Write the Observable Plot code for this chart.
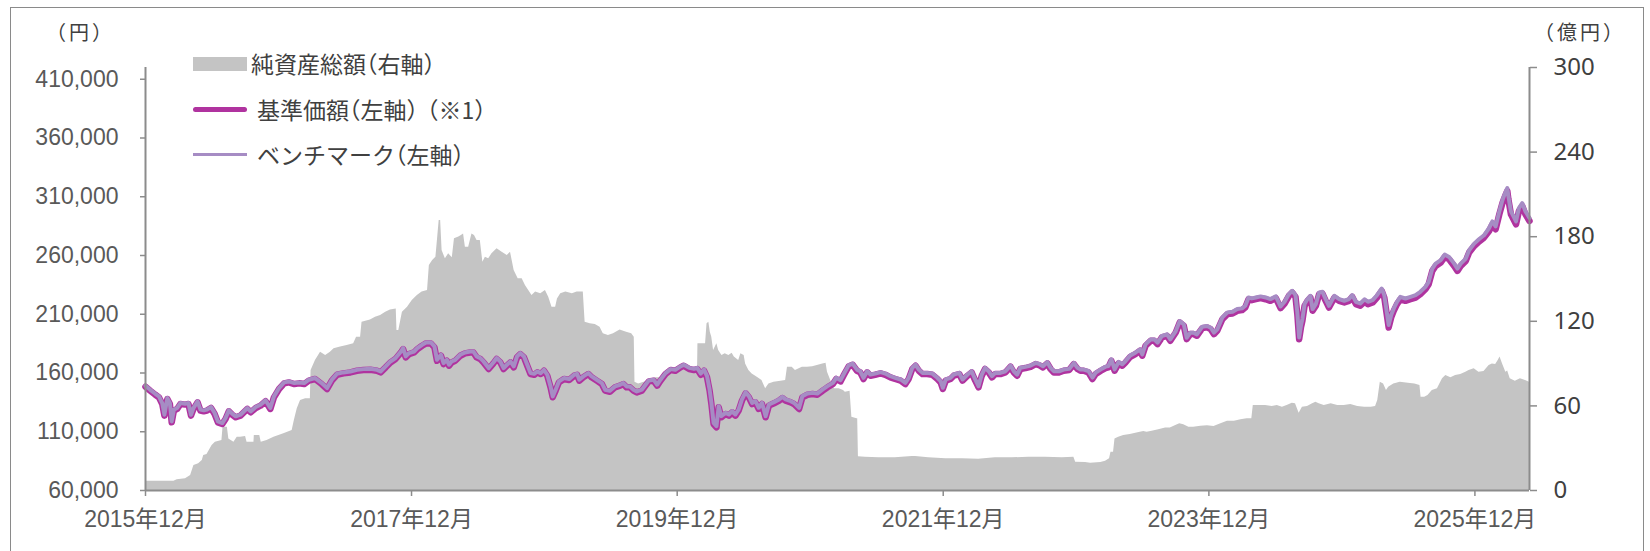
<!DOCTYPE html>
<html><head><meta charset="utf-8">
<script src="https://cdn.jsdelivr.net/npm/d3@7"></script>
<script src="https://cdn.jsdelivr.net/npm/@observablehq/plot@0.6"></script>
<style>
html,body{margin:0;padding:0;background:#fff;}
#wrap{position:relative;width:1650px;height:551px;overflow:hidden;color:#595959;font-family:"Liberation Sans","Noto Sans CJK JP",sans-serif;}
#frame{position:absolute;left:10px;top:7px;width:1634px;height:620px;border:1.5px solid #8a8a8a;box-sizing:border-box;}
#chart{position:absolute;left:0;top:0;}
.lg{position:absolute;font-size:23px;line-height:23px;white-space:nowrap;font-family:"Noto Sans CJK JP",sans-serif;color:#404040;font-feature-settings:"halt";}
.gap{margin-left:9px;}
.sw{position:absolute;}
.unit{position:absolute;font-size:20px;line-height:20px;font-family:"Noto Sans CJK JP",sans-serif;color:#404040;white-space:nowrap;letter-spacing:3px;}
</style></head>
<body>
<div id="wrap">
  <div id="frame"></div>
  <div id="chart"></div>
  <div class="unit" style="left:46px;top:22px;">（円）</div>
  <div class="unit" style="left:1534px;top:22px;">（億円）</div>
  <div class="sw" style="left:193px;top:57px;width:54px;height:14px;background:#c4c4c4;"></div>
  <div class="lg" style="left:251px;top:52px;">純資産総額（右軸）</div>
  <div class="sw" style="left:193px;top:107px;width:54px;height:5px;border-radius:2.5px;background:#b0339f;"></div>
  <div class="lg" style="left:257px;top:98px;">基準価額（左軸）<span class="gap">（※1）</span></div>
  <div class="sw" style="left:193px;top:153px;width:54px;height:2.5px;background:#a68cc4;"></div>
  <div class="lg" style="left:257px;top:143px;">ベンチマーク（左軸）</div>
</div>
<script>
const navDates = [
"2015-12-01","2015-12-14","2015-12-28",
"2016-01-07","2016-01-16","2016-01-22","2016-01-30","2016-02-06","2016-02-11","2016-02-17","2016-02-26","2016-03-06","2016-03-19","2016-03-28","2016-04-04","2016-04-11","2016-04-22","2016-04-30","2016-05-09","2016-05-18","2016-05-29","2016-06-08","2016-06-17","2016-06-29","2016-07-08","2016-07-17","2016-07-26","2016-08-05","2016-08-18","2016-09-06","2016-09-15","2016-09-29","2016-10-12","2016-10-26","2016-11-08","2016-11-18","2016-12-02","2016-12-16","2016-12-29",
"2017-01-13","2017-01-26","2017-02-09","2017-02-22","2017-03-11","2017-03-29","2017-04-13","2017-04-26","2017-05-10","2017-05-28","2017-06-16","2017-07-04","2017-07-22","2017-08-10","2017-08-28","2017-09-07","2017-09-21","2017-10-04","2017-10-18","2017-11-02","2017-11-08","2017-11-15","2017-11-24","2017-12-08","2017-12-17","2017-12-30",
"2018-01-10","2018-01-23","2018-02-02","2018-02-09","2018-02-20","2018-02-27","2018-03-08","2018-03-14","2018-03-21","2018-03-31","2018-04-14","2018-04-27","2018-05-11","2018-05-20","2018-05-29","2018-06-08","2018-06-17","2018-07-01","2018-07-14","2018-07-23","2018-08-02","2018-08-11","2018-08-20","2018-08-30","2018-09-08","2018-09-17","2018-09-26","2018-10-06","2018-10-15","2018-10-24","2018-11-03","2018-11-12","2018-11-21","2018-11-30","2018-12-09","2018-12-18","2018-12-24",
"2019-01-01","2019-01-10","2019-01-24","2019-02-07","2019-02-21","2019-03-01","2019-03-07","2019-03-18","2019-04-01","2019-04-10","2019-04-24","2019-05-08","2019-05-17","2019-05-30","2019-06-13","2019-06-27","2019-07-06","2019-07-15","2019-07-24","2019-08-03","2019-08-12","2019-08-26","2019-09-05","2019-09-14","2019-09-27","2019-10-07","2019-10-16","2019-10-30","2019-11-13","2019-11-26","2019-12-10","2019-12-19",
"2020-01-03","2020-01-16","2020-01-25","2020-02-04","2020-02-13","2020-02-21","2020-02-28","2020-03-04","2020-03-10","2020-03-18","2020-03-24","2020-03-31","2020-04-12","2020-04-21","2020-04-30","2020-05-09","2020-05-18","2020-05-27","2020-06-06","2020-06-15","2020-06-24","2020-07-03","2020-07-12","2020-07-21","2020-07-31","2020-08-09","2020-08-23","2020-09-06","2020-09-15","2020-09-24","2020-10-08","2020-10-17","2020-10-31","2020-11-09","2020-11-23","2020-12-07","2020-12-20",
"2021-01-04","2021-01-17","2021-02-01","2021-02-10","2021-02-22","2021-03-02","2021-03-16","2021-03-27","2021-04-08","2021-04-17","2021-04-26","2021-05-06","2021-05-15","2021-05-28","2021-06-12","2021-06-25","2021-07-09","2021-07-22","2021-08-06","2021-08-19","2021-08-28","2021-09-07","2021-09-16","2021-09-25","2021-10-05","2021-10-18","2021-11-01","2021-11-15","2021-11-24","2021-11-30","2021-12-08","2021-12-21","2021-12-30",
"2022-01-14","2022-01-23","2022-02-06","2022-02-17","2022-02-27","2022-03-08","2022-03-17","2022-03-26","2022-04-05","2022-04-14","2022-04-23","2022-05-07","2022-05-21","2022-06-04","2022-06-13","2022-06-22","2022-07-01","2022-07-15","2022-07-29","2022-08-12","2022-08-21","2022-09-01","2022-09-13","2022-09-22","2022-10-01","2022-10-15","2022-10-28","2022-11-12","2022-11-25","2022-12-05","2022-12-13","2022-12-22",
"2023-01-04","2023-01-15","2023-01-24","2023-02-07","2023-02-20","2023-02-28","2023-03-08","2023-03-17","2023-03-28","2023-04-07","2023-04-16","2023-04-29","2023-05-13","2023-05-26","2023-06-01","2023-06-10","2023-06-24","2023-07-04","2023-07-13","2023-07-25","2023-08-08","2023-08-17","2023-09-01","2023-09-12","2023-09-23","2023-10-01","2023-10-11","2023-10-20","2023-10-29","2023-11-13","2023-11-26","2023-12-06","2023-12-15","2023-12-24",
"2024-01-07","2024-01-21","2024-02-04","2024-02-17","2024-03-01","2024-03-10","2024-03-19","2024-03-28","2024-04-08","2024-04-21","2024-05-05","2024-05-18","2024-06-02","2024-06-15","2024-06-26","2024-07-08","2024-07-17","2024-07-26","2024-07-31","2024-08-05","2024-08-10","2024-08-14","2024-08-20","2024-08-28","2024-09-05","2024-09-11","2024-09-20","2024-09-29","2024-10-08","2024-10-17","2024-10-26","2024-11-10","2024-11-23","2024-12-07","2024-12-20","2024-12-29",
"2025-01-08","2025-01-20","2025-02-01","2025-02-10","2025-02-23","2025-03-07","2025-03-20","2025-03-27","2025-04-04","2025-04-08","2025-04-15","2025-04-22","2025-05-01","2025-05-10","2025-05-24","2025-06-07","2025-06-21","2025-07-04","2025-07-18","2025-07-27","2025-08-06","2025-08-15","2025-08-29","2025-09-09","2025-09-21","2025-10-05","2025-10-14","2025-10-23","2025-11-06","2025-11-15","2025-11-29","2025-12-12","2025-12-26",
"2026-01-09","2026-01-18","2026-01-27","2026-02-06","2026-02-15","2026-02-22","2026-02-28","2026-03-03","2026-03-10","2026-03-17","2026-03-24","2026-04-01","2026-04-10","2026-04-19","2026-04-30"
];
const navValues = [
148300,144900,141500,
139300,133600,123700,137900,133600,118000,128000,129400,133600,133100,133600,123700,129400,135000,128000,127400,128000,130200,125100,118000,116600,120900,127400,124600,122300,123700,129400,126500,130200,132200,135900,129400,139300,146400,151200,152000,
150600,151200,150600,153500,154900,150600,146400,153500,158500,159700,160500,161900,162500,162800,161900,160500,164800,169000,171900,177500,180300,173300,176100,177500,180300,183200,
185200,185200,181800,170400,174700,167600,170400,166200,169000,170400,174700,176700,177500,177500,173300,171900,169000,163400,168200,171900,169000,163400,166200,169000,164800,173300,176100,173300,166200,159100,158500,160500,159100,161900,157700,147800,139300,
145000,152000,154900,154000,157700,158500,153500,156300,159100,156300,153500,150600,145000,144000,147800,149200,150600,147800,147800,145000,143500,145000,149200,152900,153500,149200,153500,159100,162500,161900,164800,166200,
163400,162500,163400,158500,161900,156300,145000,133600,116600,113800,130800,122300,125100,123700,126500,123700,128000,136500,142700,139300,133600,135000,129400,133600,122300,132200,134200,136500,138700,136500,135000,133600,129400,139300,141500,142100,141500,
145000,147800,150600,154900,152900,157700,165500,167000,161900,160500,154900,160500,157700,158500,159700,158500,156300,154900,153500,150600,154900,163400,166200,161900,159100,159100,158500,154900,152000,146400,153500,154900,157700,
159100,153500,157700,160500,153500,147800,157700,163400,160500,156300,159100,159100,160500,165300,160500,157700,163400,164200,165300,167600,166800,164800,168200,163400,160500,160500,161900,162500,167600,163400,162000,161900,
160500,154900,159100,161900,164200,164800,170400,161900,168200,166200,169000,173800,176100,178900,174700,183200,187400,187400,184600,190300,191700,187400,194500,203000,200200,188800,193100,193100,191700,198200,198800,197300,193100,195900,
205800,210100,210600,212900,213500,215700,222800,222000,222800,223700,222800,221400,223700,215200,219100,225700,228500,224800,210100,188800,198800,204400,217200,221400,224200,212900,217200,227100,227600,221400,215700,224200,221400,220000,221400,224800,
218600,217200,220800,218600,220000,224200,229900,224200,207300,198800,207300,212900,218600,222800,221400,222800,224200,227100,231300,235600,246900,251100,254000,258800,256800,251100,246900,251100,255400,262500,268100,271800,275200,
280900,286500,282300,295000,304900,310600,314900,307800,295000,290800,286500,297900,302100,295000,289400
];
const benchValues = [
149100,145700,142300,
140100,134400,124500,138700,134400,118800,128800,130200,134400,133900,134400,124500,130200,135800,128800,128200,128800,131000,125900,118800,117400,121700,128200,125400,123100,124500,130200,127300,131000,133000,136700,130200,140100,147200,152000,152800,
151400,152000,151400,154300,155700,151400,147200,154300,159300,160500,161300,162700,163300,163600,162700,161300,165600,169800,172700,178300,181100,174100,176900,178300,181100,184000,
186000,186000,182600,171200,175500,168400,171200,167000,169800,171200,175500,177500,178300,178300,174100,172700,169800,164200,169000,172700,169800,164200,167000,169800,165600,174100,176900,174100,167000,159900,159300,161300,159900,162700,158500,148600,140100,
145800,152800,155700,154800,158500,159300,154300,157100,159900,157100,154300,151400,145800,144800,148600,150000,151400,148600,148600,145800,144300,145800,150000,153700,154300,150000,154300,159900,163300,162700,165600,167000,
164400,163500,164400,159500,162900,157300,146000,134600,117600,114800,131800,123300,126100,124700,127500,124700,129000,137500,143700,140300,134600,136000,130400,134600,123300,133200,135200,137500,139700,137500,136000,134600,130400,140300,142500,143100,142500,
146000,148800,151600,155900,153900,158700,166500,168000,162900,161500,155900,161500,158700,159500,160700,159500,157300,155900,154500,151600,155900,164400,167200,162900,160100,160100,159500,155900,153000,147400,154500,155900,158700,
160100,154500,158700,161500,154500,148800,158700,164400,161500,157300,160100,160100,161500,166300,161500,158700,164400,165200,166300,168600,167800,165800,169200,164400,161500,161500,162900,163500,168600,164400,163000,162900,
161700,156100,160300,163100,165400,166000,171600,163100,169400,167400,170200,175000,177300,180100,175900,184400,188600,188600,185800,191500,192900,188600,195700,204200,201400,190000,194300,194300,192900,199400,200000,198500,194300,197100,
207300,211600,212100,214400,215000,217200,224300,223500,224300,225200,224300,222900,225200,216700,220600,227200,230000,226300,211600,190300,200300,205900,218700,222900,225700,214400,218700,228600,229100,222900,217200,225700,222900,221500,222900,226300,
220600,219200,222800,220600,222000,226200,231900,226200,209300,200800,209300,214900,220600,224800,223400,224800,226200,229100,233300,237600,248900,253100,256000,260800,258800,253100,248900,253100,257400,264500,270100,273800,277200,
283400,289000,284800,297500,307400,313100,317400,310300,297500,293300,289000,300400,304600,297500,291900
];
const aumDates = [
"2015-12-01","2016-02-17","2016-02-26","2016-03-20","2016-04-03","2016-04-12","2016-04-25","2016-05-05","2016-05-09","2016-05-18","2016-06-01","2016-06-10","2016-06-28","2016-07-01","2016-07-13","2016-07-17","2016-07-31","2016-08-09","2016-08-18","2016-09-01","2016-09-05","2016-09-24","2016-09-25","2016-10-10","2016-10-14","2016-10-30","2016-11-18","2016-12-15",
"2017-01-07","2017-01-13","2017-01-21","2017-01-30","2017-02-13","2017-02-26","2017-02-28","2017-03-12","2017-03-26","2017-04-09","2017-04-22","2017-05-02","2017-05-20","2017-06-07","2017-06-25","2017-07-03","2017-07-14","2017-07-18","2017-08-10","2017-08-24","2017-09-07","2017-09-21","2017-10-04","2017-10-20","2017-10-22","2017-10-27","2017-11-06","2017-11-20","2017-12-03","2017-12-17","2017-12-30",
"2018-01-14","2018-01-19","2018-01-28","2018-02-06","2018-02-11","2018-02-15","2018-02-19","2018-02-23","2018-03-04","2018-03-13","2018-03-23","2018-03-29","2018-04-10","2018-04-17","2018-04-23","2018-04-28","2018-05-07","2018-05-16","2018-05-23","2018-05-30","2018-06-08","2018-06-15","2018-06-22","2018-07-01","2018-07-10","2018-07-24","2018-08-07","2018-08-21","2018-08-30","2018-09-09","2018-09-20","2018-10-01","2018-10-10","2018-10-19","2018-10-28","2018-11-07","2018-11-21","2018-12-04","2018-12-13","2018-12-22",
"2019-01-01","2019-01-06","2019-01-15","2019-01-29","2019-02-16","2019-03-01","2019-03-18","2019-03-23","2019-04-06","2019-04-20","2019-05-03","2019-05-12","2019-05-26","2019-06-09","2019-06-27","2019-07-15","2019-07-29","2019-08-05","2019-08-07","2019-08-17","2019-09-01","2019-09-15","2019-10-01","2019-10-15","2019-11-01","2019-11-15","2019-12-01","2019-12-15",
"2020-01-01","2020-01-26","2020-01-27","2020-02-08","2020-02-17","2020-02-21","2020-02-26","2020-03-01","2020-03-05","2020-03-10","2020-03-19","2020-03-24","2020-04-02","2020-04-11","2020-04-21","2020-04-30","2020-05-06","2020-05-18","2020-05-24","2020-06-02","2020-06-06","2020-06-15","2020-06-24","2020-07-08","2020-07-21","2020-07-31","2020-08-09","2020-08-23","2020-09-11","2020-09-24","2020-09-29","2020-10-12","2020-10-21","2020-10-31","2020-11-09","2020-11-23","2020-12-07","2020-12-20",
"2021-01-04","2021-01-13","2021-01-17","2021-01-26","2021-02-05","2021-02-18","2021-03-02","2021-03-07","2021-03-20","2021-03-25","2021-04-08","2021-04-10","2021-04-12","2021-05-01","2021-06-07","2021-07-22","2021-09-07","2021-09-16","2021-10-22","2021-12-08",
"2022-01-23","2022-03-08","2022-04-23","2022-06-08","2022-07-24","2022-09-08","2022-10-24","2022-11-25","2022-11-30","2022-12-27",
"2023-01-10","2023-02-07","2023-02-20","2023-03-03","2023-03-07","2023-03-14","2023-03-18","2023-03-28","2023-04-11","2023-04-29","2023-05-17","2023-06-05","2023-06-14","2023-06-28","2023-07-16","2023-08-04","2023-08-17","2023-09-01","2023-09-12","2023-09-23","2023-10-07","2023-10-20","2023-11-09","2023-11-27","2023-12-15",
"2024-01-03","2024-01-21","2024-02-09","2024-02-27","2024-03-15","2024-03-28","2024-04-01","2024-04-17","2024-05-05","2024-05-23","2024-06-06","2024-06-20","2024-07-03","2024-07-17","2024-07-26","2024-08-05","2024-08-14","2024-08-28","2024-09-11","2024-09-20","2024-09-29","2024-10-13","2024-11-01","2024-11-19","2024-12-07","2024-12-25",
"2025-01-13","2025-02-01","2025-02-19","2025-03-03","2025-03-09","2025-03-16","2025-03-25","2025-04-02","2025-04-08","2025-04-22","2025-05-10","2025-06-01","2025-06-19","2025-07-03","2025-07-06","2025-07-16","2025-07-25","2025-08-06","2025-08-20","2025-09-03","2025-09-12","2025-09-26","2025-10-09","2025-10-23","2025-11-06","2025-11-15","2025-11-29","2025-12-12","2025-12-26",
"2026-01-09","2026-01-18","2026-01-27","2026-02-03","2026-02-08","2026-02-15","2026-02-24","2026-03-01","2026-03-08","2026-03-22","2026-04-05","2026-04-19","2026-04-30"
];
const aumValues = [
6.6,6.6,7.6,8.3,10.6,17.7,18.9,21.3,24.8,25.5,31.9,34.3,35.5,44.9,44.9,36.6,34.3,37.8,37.8,38.3,34.3,34.3,39.0,39.0,34.3,35.5,37.8,40.2,
42.6,49.6,57.9,63.8,65.0,65.0,85.1,92.2,98.1,95.7,98.1,100.5,101.7,102.8,104.0,108.7,108.7,119.4,121.0,122.9,124.1,126.5,128.1,128.8,113.5,113.5,126.5,130.0,134.7,138.3,140.7,
141.8,159.6,163.1,165.5,179.7,191.5,191.5,170.2,164.3,167.9,165.0,178.5,179.7,180.8,182.0,172.6,172.6,182.0,180.8,177.3,177.3,161.9,165.5,164.3,167.9,171.4,169.0,166.7,169.0,156.0,150.1,150.1,145.4,141.8,138.3,140.7,139.5,141.8,137.1,130.0,
130.0,135.9,139.5,140.7,139.5,140.7,140.7,119.4,118.2,117.7,115.8,111.1,109.9,111.1,113.9,112.3,111.1,108.7,76.8,75.6,76.8,78.0,80.0,80.0,84.0,86.0,87.0,88.0,
87.0,86.0,104.0,104.0,104.0,118.2,119.4,112.3,108.7,99.3,104.0,99.3,95.7,96.9,95.7,97.3,94.6,92.2,96.9,95.7,89.8,85.1,82.7,80.4,78.0,72.1,75.6,76.8,77.5,78.0,87.5,87.5,85.1,86.3,87.5,87.5,87.8,88.7,
89.8,90.2,83.9,78.0,72.1,72.1,70.9,69.7,70.4,52.0,50.8,50.8,23.9,23.6,23.2,23.2,24.1,24.1,23.2,22.5,
22.5,22.2,23.2,23.2,23.6,23.6,23.2,23.6,20.1,19.9,
19.4,19.9,20.8,22.5,27.2,27.2,36.6,37.8,39.0,39.7,40.7,41.8,41.3,42.1,43.0,44.4,44.4,46.1,47.3,46.6,44.9,44.9,45.6,45.9,45.4,
47.3,49.2,49.2,50.1,50.8,50.8,60.3,60.3,60.3,59.6,60.3,59.1,60.3,61.9,61.5,54.8,59.1,59.6,61.5,62.6,61.5,60.3,61.5,60.3,60.3,61.0,
59.6,59.1,59.1,59.6,63.8,76.8,75.6,70.9,73.3,75.6,76.8,76.1,75.6,74.5,66.2,66.2,67.4,70.9,72.1,79.2,81.6,79.9,81.6,82.3,83.9,85.1,86.3,83.9,84.4,
88.7,89.8,89.3,92.2,94.6,89.8,83.9,84.7,79.2,77.5,79.2,78.0,76.8
];
const leftTicks = [60000,110000,160000,210000,260000,310000,360000,410000];
const rightTicks = [0,60,120,180,240,300];
const xTickDates = ["2015-12-01","2017-12-01","2019-12-01","2021-12-01","2023-12-01","2025-12-01"];
const xDomain = ["2015-12-01","2026-04-30"];
const LEFT_MIN = 60000, LEFT_MAX = 420000, RIGHT_MAX = 300;

const k = (LEFT_MAX - LEFT_MIN) / RIGHT_MAX;
const toLeft = v => LEFT_MIN + v * k;
const nav = navDates.map((d, i) => ({date: new Date(d), nav: navValues[i], bench: benchValues[i]}));
const aum = aumDates.map((d, i) => ({date: new Date(d), v: aumValues[i]}));
const dom = xDomain.map(d => new Date(d));
const axisCol = "#8c8c8c";

const chart = Plot.plot({
  width: 1650, height: 551,
  marginLeft: 145, marginRight: 121, marginTop: 67, marginBottom: 61,
  style: {background: "transparent", overflow: "visible", color: "#595959"},
  x: {type: "utc", domain: dom, label: null},
  y: {domain: [LEFT_MIN, LEFT_MAX], label: null},
  marks: [
    Plot.areaY(aum, {x: "date", y1: LEFT_MIN, y2: d => toLeft(d.v), fill: "#c4c4c4"}),
    Plot.lineY(nav, {x: "date", y: "nav", stroke: "#b0339f", strokeWidth: 6.5, strokeLinejoin: "round", strokeLinecap: "round"}),
    Plot.lineY(nav, {x: "date", y: "bench", stroke: "#a68cc4", strokeWidth: 4, strokeLinejoin: "round"}),
    Plot.ruleY([LEFT_MIN], {stroke: axisCol, strokeWidth: 2}),
    Plot.ruleX([dom[0]], {stroke: axisCol, strokeWidth: 2}),
    Plot.ruleX([dom[1]], {stroke: axisCol, strokeWidth: 2}),
    Plot.axisY(leftTicks, {anchor: "left", label: null, tickSize: 5, tickPadding: 22, strokeWidth: 1.5, stroke: axisCol, fill: "#595959",
      tickFormat: d3.format(","), fontSize: 23, fontFamily: "Liberation Sans, Arial, sans-serif"}),
    Plot.axisY(rightTicks.map(toLeft), {anchor: "right", label: null, tickSize: 7, tickPadding: 17, strokeWidth: 1.5, stroke: axisCol, fill: "#404040",
      tickFormat: d => String(Math.round((d - LEFT_MIN) / k)), fontSize: 24, fontFamily: "Noto Sans, sans-serif"}),
    Plot.axisX(xTickDates.map(d => new Date(d)), {anchor: "bottom", label: null, tickSize: 6, tickPadding: 14, strokeWidth: 1.5, stroke: axisCol, fill: "#595959",
      tickFormat: d => `${d.getUTCFullYear()}年${d.getUTCMonth() + 1}月`, fontSize: 23, fontFamily: "Liberation Sans, Noto Sans CJK JP, sans-serif"})
  ]
});
document.getElementById("chart").appendChild(chart);
</script>
</body></html>
